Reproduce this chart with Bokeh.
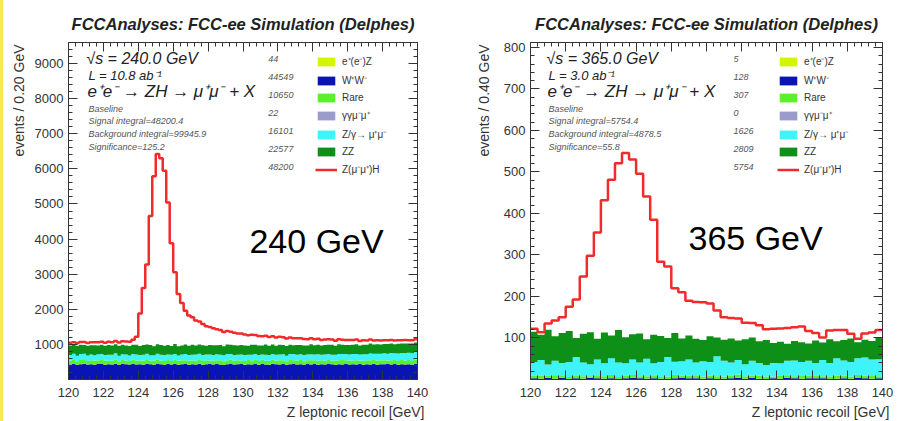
import numpy as np
from bokeh.plotting import figure
from bokeh.models import Range1d, LinearAxis, SingleIntervalTicker, Label, Legend, LegendItem, Spacer, Title
from bokeh.layouts import row
from bokeh.embed import file_html
from bokeh.resources import INLINE

FONT = "Liberation Sans"

TITLE = "FCCAnalyses: FCC-ee Simulation (Delphes)"
X_TITLE = "Z leptonic recoil [GeV]"
PROCESS_LABELS = ["e⁺(e⁻)Z", "W⁺W⁻", "Rare", "γγμ⁻μ⁺", "Z/γ→ μ⁺μ⁻", "ZZ"]
SIGNAL_LABEL = "Z(μ⁻μ⁺)H"
PROCESS_COLORS = ["#d2f500", "#0a14b4", "#5cf02c", "#9c9ccc", "#3ef4f8", "#0d8f18"]
SIGNAL_COLOR = "#f22a2a"

X_MIN, X_MAX = 120, 140

# ---------------- 240 GeV (0.2 GeV bins) ----------------
EEZ_240 = [0,1,0,0,1,1,0,1,0,0, 1,0,1,0,1,0,0,1,1,0, 0,1,0,1,0,0,1,0,1,1, 0,0,1,0,1,0,1,1,0,0,
           1,0,0,1,0,1,0,1,0,1, 1,0,1,0,0,1,0,0,1,0, 0,1,0,1,1,0,0,1,0,1, 0,0,1,0,1,0,1,0,0,1,
           1,0,0,1,0,1,0,1,1,0, 0,1,0,0,1,0,1,0,0,1]
WW_240 = [428,441,419,436,447,425,432,418,439,444, 421,435,429,446,417,438,431,424,442,427,
          436,419,445,430,423,440,433,416,437,429, 444,422,431,439,418,435,426,447,420,433,
          438,425,441,429,419,436,443,424,432,440, 417,434,428,445,421,437,430,423,446,431,
          426,439,418,435,442,427,433,420,438,429, 444,421,436,425,440,432,419,437,428,443,
          424,435,430,441,418,433,427,446,422,436, 431,439,425,442,420,434,428,437,423,440]
RARE_240 = [108,117,103,121,110,98,115,124,106,113, 119,101,111,126,104,116,109,99,122,114,
            107,120,112,102,118,125,105,111,116,100, 123,109,114,106,119,103,112,127,108,115,
            101,118,110,121,104,113,124,107,117,99, 112,120,105,116,109,122,102,114,118,106,
            125,111,103,119,108,115,121,100,113,117, 104,123,110,107,116,102,119,112,126,105,
            114,108,120,101,117,111,124,106,115,109, 118,103,122,113,107,120,110,116,104,121]
GG_240 = [0,0,1,0,0,0,0,1,0,0, 0,1,0,0,0,0,1,0,0,0, 0,0,0,1,0,0,0,0,1,0, 0,0,1,0,0,0,0,0,1,0,
          0,1,0,0,0,0,1,0,0,0, 0,0,0,1,0,0,0,0,0,1, 0,0,1,0,0,0,0,1,0,0, 0,0,0,0,1,0,0,0,1,0,
          0,1,0,0,0,0,0,1,0,0, 0,0,1,0,0,0,1,0,0,0]
ZG_240 = [162,171,155,168,176,159,164,150,173,166, 158,169,161,177,153,165,172,157,163,170,
          154,167,175,160,149,168,163,171,156,174, 161,152,166,178,159,164,170,155,168,162,
          173,157,165,151,169,176,160,163,158,171, 166,154,172,161,167,150,175,163,158,169,
          164,171,156,168,173,160,166,177,159,170, 165,172,161,178,167,174,163,180,169,176,
          171,182,175,168,185,177,189,180,193,186, 198,190,204,196,210,201,214,207,219,224]
ZZ_240 = [272,258,281,266,249,277,263,285,254,270, 261,279,268,252,284,271,259,276,264,282,
          257,273,266,288,255,269,278,262,274,251, 280,267,259,275,263,286,258,270,281,253,
          268,276,262,283,257,271,265,279,260,274, 269,256,282,266,273,259,287,264,271,255,
          278,262,275,268,250,280,266,273,259,284, 263,277,258,271,265,282,256,274,268,261,
          276,264,280,257,272,266,283,260,275,269, 262,278,270,256,281,267,274,263,279,271]
SIG_240 = [80,76,82,78,84,80,86,82,88,85, 90,87,92,95,98,102,108,115,140,225,
           925,1625,2275,3675,4845,5425,5325,4985,4055,2925, 2045,1485,1205,960,865,785,715,655,600,555,
           515,480,450,425,405,385,370,355,340,325, 315,300,290,282,270,262,255,246,240,232,
           226,220,214,208,202,196,190,185,180,175, 170,166,162,158,155,152,149,146,143,140,
           137,134,131,128,125,122,119,116,113,110, 108,106,104,102,100,98,96,94,92,90]
YIELDS_240 = ["44", "44549", "10650", "22", "16101", "22577", "48200"]
INFO_240 = ["√s = 240.0 GeV", "L = 10.8 ab⁻¹", "e⁺e⁻ → ZH → μ⁺μ⁻ + X"]
STATS_240 = ["Baseline", "Signal integral=48200.4", "Background integral=99945.9", "Significance=125.2"]

# ---------------- 365 GeV (0.4 GeV bins) ----------------
EEZ_365 = [0,0,0,0,1,0,0,0,0,0, 0,0,0,1,0,0,0,0,0,0, 0,0,1,0,0,0,0,0,0,0, 0,1,0,0,0,0,0,0,0,0,
           1,0,0,0,0,0,0,0,0,0]
WW_365 = [3,2,4,2,3,1,3,2,4,3, 2,3,1,2,4,3,2,3,2,1, 3,4,2,3,2,3,1,2,3,4, 2,3,2,1,3,2,4,3,2,3,
          2,3,1,2,3,2,4,3,2,3]
RARE_365 = [6,7,5,8,6,5,7,6,4,7, 6,8,5,6,7,5,6,7,4,6, 8,5,6,7,5,6,7,5,6,8, 6,5,7,6,4,7,6,5,8,6,
            7,5,6,7,6,5,7,6,8,5]
GG_365 = [0,0,0,0,0,0,0,0,0,0, 0,0,0,0,0,0,0,0,0,0, 0,0,0,0,0,0,0,0,0,0, 0,0,0,0,0,0,0,0,0,0,
          0,0,0,0,0,0,0,0,0,0]
ZG_365 = [33,38,27,35,30,36,44,33,29,38, 31,40,35,30,37,33,42,29,36,47, 32,35,39,31,37,33,48,38,32,35,
          29,36,31,28,33,30,35,38,32,36, 30,39,33,42,37,35,40,44,38,41]
ZZ_365 = [73,61,84,59,72,75,46,69,77,50, 74,55,78,63,61,70,47,69,63,46, 69,55,58,57,51,62,45,51,58,47,
          60,56,52,60,48,52,41,47,48,42, 54,42,57,41,49,57,39,43,45,52]
SIG_365 = [7,6,15,38,38,58,93,138,184,256, 319,375,402,444,421,385,344,277,179,172,
           108,111,84,89,91,79,65,54,49,53, 40,35,39,26,34,32,38,33,38,30,
           18,12,21,27,24,11,8,15,20,18]
YIELDS_365 = ["5", "128", "307", "0", "1626", "2809", "5754"]
INFO_365 = ["√s = 365.0 GeV", "L = 3.0 ab⁻¹", "e⁺e⁻ → ZH → μ⁺μ⁻ + X"]
STATS_365 = ["Baseline", "Signal integral=5754.4", "Background integral=4878.5", "Significance=55.8"]


def bump_standoff(t, extra):
    if extra and "standoff" in t.properties():
        t.standoff = max(0, (t.standoff or 0) + extra)


def make_panel(series, signal, bin_w, y_max, y_major, frame, fig_x0, fig_w,
               info, stats, yields, big_label, big_xy, ytitle, ytitle_shift, text_x, num_x, sw_x):
    x0, x1, y0, y1 = frame
    p = figure(width=fig_w, height=421, x_range=Range1d(X_MIN, X_MAX), y_range=Range1d(0, y_max),
               output_backend="svg", toolbar_location=None, x_axis_type=None, y_axis_type=None,
               min_border_left=x0 - fig_x0, min_border_right=fig_x0 + fig_w - x1,
               min_border_top=y0, min_border_bottom=421 - y1)
    p.outline_line_color = "#333333"
    p.background_fill_color = "white"
    p.border_fill_color = "white"

    def d(px, py):
        return (X_MIN + (px - x0) / (x1 - x0) * (X_MAX - X_MIN), (y1 - py) / (y1 - y0) * y_max)

    n = len(signal)
    edges = X_MIN + bin_w * np.arange(n + 1)
    xs = np.repeat(edges, 2)[1:-1]
    bottom = np.zeros(n)
    rends = []
    for vals, color in zip(series, PROCESS_COLORS):
        top = bottom + np.asarray(vals, float)
        r = p.varea(x=xs, y1=np.repeat(bottom, 2), y2=np.repeat(top, 2), fill_color=color)
        rends.append(r)
        bottom = top
    total = bottom + np.asarray(signal, float)
    rs = p.line(xs, np.repeat(total, 2), line_color=SIGNAL_COLOR, line_width=2.5)

    xt = SingleIntervalTicker(interval=2, num_minor_ticks=5)
    yt = SingleIntervalTicker(interval=y_major, num_minor_ticks=5)
    for loc, tick, show in [("below", xt, True), ("above", xt, False), ("left", yt, True), ("right", yt, False)]:
        ax = LinearAxis(ticker=tick)
        ax.axis_line_color = "#333333"
        ax.major_tick_in = 9
        ax.major_tick_out = 0
        ax.minor_tick_in = 4
        ax.minor_tick_out = 0
        ax.major_tick_line_color = "#333333"
        ax.minor_tick_line_color = "#333333"
        if show:
            ax.major_label_text_font = FONT
            ax.major_label_text_font_size = "13px"
            ax.major_label_text_color = "#333333"
            if loc == "left":
                ax.major_label_standoff = 5
                ax.major_label_overrides = {0: ""}
            else:
                ax.major_label_standoff = 8
        else:
            ax.major_label_text_color = None
            ax.major_label_text_alpha = 0
            ax.major_label_standoff = 0
        p.add_layout(ax, loc)

    # titles outside the frame
    p.title.text = TITLE
    p.title.align = "center"
    p.title.text_font = FONT
    p.title.text_font_size = "16.5px"
    p.title.text_font_style = "bold italic"
    p.title.text_color = "#222222"
    bump_standoff(p.title, 10)

    xt_title = Title(text=X_TITLE, align="right", offset=-7, text_font=FONT, text_font_size="14px",
                     text_font_style="normal", text_color="#333333")
    bump_standoff(xt_title, -6)
    p.add_layout(xt_title, "below")
    yt_title = Title(text=ytitle, align="right", offset=2, text_font=FONT, text_font_size="14px",
                     text_font_style="normal", text_color="#333333")
    bump_standoff(yt_title, ytitle_shift)
    p.add_layout(yt_title, "left")

    def text(px, py, s, size, style="normal", color="#222222", align="left", baseline="middle", angle=0.0):
        x, y = d(px, py)
        p.add_layout(Label(x=x, y=y, text=s, text_font=FONT, text_font_size=f"{size}px",
                           text_font_style=style, text_color=color, text_align=align,
                           text_baseline=baseline, angle=angle))

    text(text_x, 58, info[0], 16, "italic")
    text(text_x + 2, 75, info[1], 13, "italic")
    text(text_x + 1, 91, info[2], 17, "italic")
    for i, s in enumerate(stats):
        text(text_x + 2, 108 + 12.7 * i, s, 9, "italic", "#555555")

    rows_y = [58 + 18 * i for i in range(7)]
    for s, yy in zip(yields, rows_y):
        text(num_x, yy, s, 9, "italic", "#555555")

    text(big_xy[0], big_xy[1], big_label, 34, "normal", "#000000")

    items = [LegendItem(label=lab, renderers=[r]) for lab, r in zip(PROCESS_LABELS, rends)]
    items.append(LegendItem(label=SIGNAL_LABEL, renderers=[rs]))
    leg = Legend(items=items, location=(sw_x - x0, y1 - 176),
                 glyph_width=22, glyph_height=11, label_height=11, spacing=5, padding=0, margin=0,
                 label_standoff=5, label_text_font=FONT, label_text_font_size="10px",
                 label_text_color="#333333", background_fill_alpha=0, border_line_alpha=0)
    p.add_layout(leg)
    return p


p1 = make_panel([EEZ_240, WW_240, RARE_240, GG_240, ZG_240, ZZ_240], SIG_240, 0.2, 9600, 1000,
                (66, 417, 42, 379), 3, 447, INFO_240, STATS_240, YIELDS_240, "240 GeV", (248, 240),
                "events / 0.20 GeV", 0, 84, 267, 313)
p2 = make_panel([EEZ_365, WW_365, RARE_365, GG_365, ZG_365, ZZ_365], SIG_365, 0.4, 812, 100,
                (530, 882, 42, 379), 450, 449, INFO_365, STATS_365, YIELDS_365, "365 GeV", (688, 237),
                "events / 0.40 GeV", 7, 546, 733, 777)

strip = Spacer(width=3, height=421, styles={"background-color": "#fde74c"})
layout = row(strip, p1, p2)
open("out.html", "w").write(file_html(layout, INLINE))
